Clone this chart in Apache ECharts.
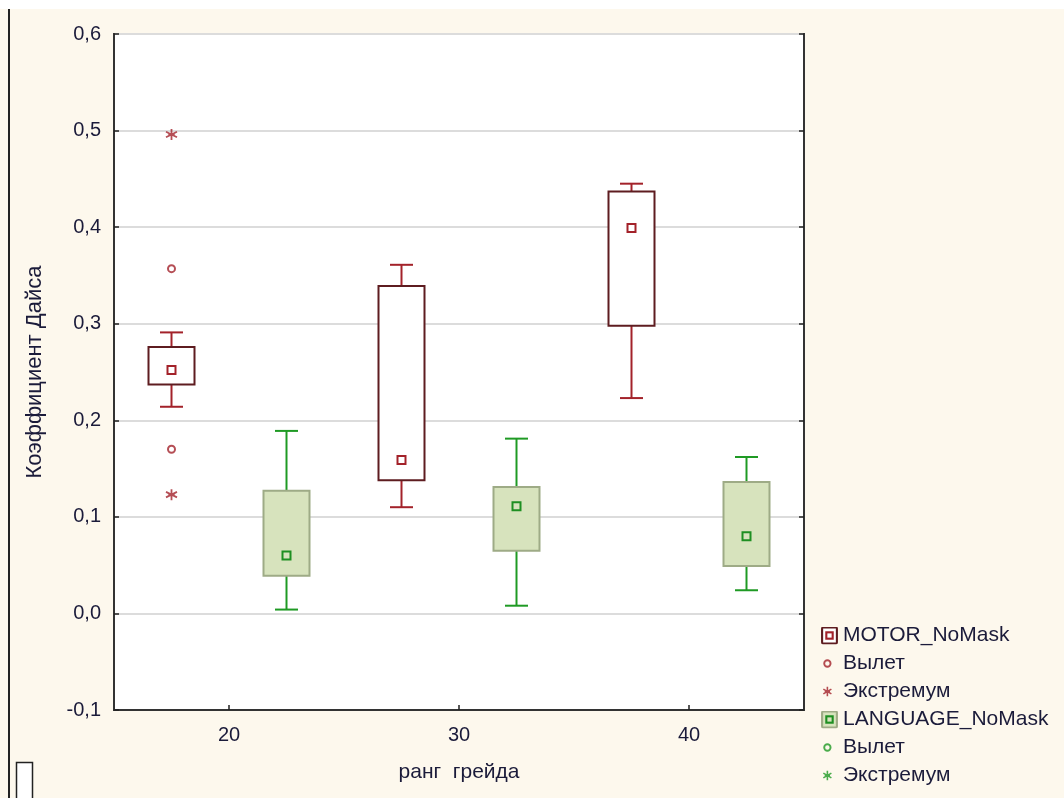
<!DOCTYPE html>
<html><head><meta charset="utf-8">
<script src="https://cdn.jsdelivr.net/npm/echarts@6/dist/echarts.min.js"></script>
<style>html,body{margin:0;padding:0;background:#fdf8ed}#c{width:1064px;height:798px}</style>
</head><body><div id="c"></div>
<script>
// ---- data ----
const categories = [20, 30, 40];
const xTickLabels = ['20', '30', '40'];
const yTickLabels = ['-0,1', '0,0', '0,1', '0,2', '0,3', '0,4', '0,5', '0,6'];

const motorMin    = [0.214, 0.110, 0.223];
const motorQ1     = [0.237, 0.138, 0.298];
const motorMedian = [0.252, 0.159, 0.399];
const motorQ3     = [0.276, 0.339, 0.437];
const motorMax    = [0.291, 0.361, 0.445];
const motorOutliers = [[20, 0.357], [20, 0.170]];
const motorExtremes = [[20, 0.496], [20, 0.123]];

const langMin    = [0.004, 0.008, 0.024];
const langQ1     = [0.039, 0.065, 0.049];
const langMedian = [0.060, 0.111, 0.080];
const langQ3     = [0.127, 0.131, 0.136];
const langMax    = [0.189, 0.181, 0.162];
const langOutliers = [];
const langExtremes = [];

// ---- styles ----
const FONT = "'Liberation Sans', Arial, sans-serif";
const TXT = '#1b1b3a';
const M = {offset: -2.5, whisker: '#a3222a', boxStroke: '#5e1c20', fill: '#ffffff', marker: '#a3222a', markerFill: '#ffffff'};
const L = {offset: 2.5, whisker: '#1f9a24', boxStroke: '#9eab86', fill: '#d7e3bd', marker: '#1e8f22', markerFill: '#d7e3bd'};

function boxData(mn, q1, md, q3, mx) {
  return categories.map((c, i) => [c, mn[i], q1[i], md[i], q3[i], mx[i]]);
}
function shift(points, off) { return points.map(p => [p[0] + off, p[1]]); }

function boxRender(st) {
  return function (params, api) {
    const x = api.value(0) + st.offset;
    const pMin = api.coord([x, api.value(1)]);
    const pQ1 = api.coord([x, api.value(2)]);
    const pMed = api.coord([x, api.value(3)]);
    const pQ3 = api.coord([x, api.value(4)]);
    const pMax = api.coord([x, api.value(5)]);
    const bw = api.size([2, 0])[0];
    const cw = api.size([1, 0])[0];
    const cx = pMin[0];
    const wl = {stroke: st.whisker, lineWidth: 2};
    return {
      type: 'group',
      children: [
        {type: 'line', shape: {x1: cx, y1: pMax[1], x2: cx, y2: pQ3[1]}, style: wl},
        {type: 'line', shape: {x1: cx, y1: pQ1[1], x2: cx, y2: pMin[1]}, style: wl},
        {type: 'line', shape: {x1: cx - cw / 2, y1: pMax[1], x2: cx + cw / 2, y2: pMax[1]}, style: wl},
        {type: 'line', shape: {x1: cx - cw / 2, y1: pMin[1], x2: cx + cw / 2, y2: pMin[1]}, style: wl},
        {type: 'rect', shape: {x: cx - bw / 2, y: pQ3[1], width: bw, height: pQ1[1] - pQ3[1]},
          style: {fill: st.fill, stroke: st.boxStroke, lineWidth: 2}},
        {type: 'rect', shape: {x: cx - 4, y: pMed[1] - 4, width: 8, height: 8},
          style: {fill: st.markerFill, stroke: st.marker, lineWidth: 2}}
      ]
    };
  };
}

const ASTER = 'path://M5,0L5,10M0.7,2.5L9.3,7.5M0.7,7.5L9.3,2.5M2.5,5L7.5,5';

function svgIcon(inner) {
  const s = '<svg xmlns="http://www.w3.org/2000/svg" width="16" height="17" viewBox="0 0 16 17">' + inner + '</svg>';
  return 'image://data:image/svg+xml;charset=utf-8,' + encodeURIComponent(s);
}
function boxIcon(st) {
  return svgIcon('<rect x="1" y="1" width="14" height="15" rx="1" fill="' + st.fill + '" stroke="' + st.boxStroke + '" stroke-width="2"/>' +
    '<rect x="5" y="5.5" width="6" height="6" fill="none" stroke="' + st.marker + '" stroke-width="2"/>');
}
function circleIcon(st) {
  return svgIcon('<circle cx="6" cy="8.5" r="3" fill="none" stroke="' + st.whisker + '" stroke-width="1.8"/>');
}
function asterIcon(st) {
  return svgIcon('<g stroke="' + st.whisker + '" stroke-width="1.5" fill="none">' +
    '<path d="M6,4L6,13M2.2,6.2L9.8,10.8M2.2,10.8L9.8,6.2M3.5,8.5L8.5,8.5"/></g>');
}

const chart = echarts.init(document.getElementById('c'), null, {renderer: 'canvas'});

const option = {
  backgroundColor: '#fdf8ed',
  animation: false,
  textStyle: {fontFamily: FONT, color: TXT},
  grid: {left: 114, right: 260, top: 34, bottom: 88, show: true, backgroundColor: '#ffffff',
    borderColor: '#333333', borderWidth: 2, containLabel: false},
  graphic: [
    {type: 'rect', left: 0, top: 0, shape: {width: 1064, height: 9}, style: {fill: '#ffffff'}, silent: true},
    {type: 'line', shape: {x1: 9, y1: 9, x2: 9, y2: 798}, style: {stroke: '#222', lineWidth: 2}, silent: true},
    {type: 'rect', shape: {x: 16.5, y: 762.5, width: 16, height: 40}, style: {fill: '#ffffff', stroke: '#222', lineWidth: 1.5}, silent: true}
  ],
  legend: {
    orient: 'vertical', left: 821, top: 625, itemWidth: 17, itemHeight: 18, itemGap: 7,
    padding: 0,
    selectedMode: false,
    formatter: name => name.split(' (')[0],
    textStyle: {fontFamily: FONT, fontSize: 21, color: TXT},
    data: [
      {name: 'MOTOR_NoMask', icon: boxIcon(M)},
      {name: 'Вылет (MOTOR)', icon: circleIcon(M)},
      {name: 'Экстремум (MOTOR)', icon: asterIcon(M)},
      {name: 'LANGUAGE_NoMask', icon: boxIcon(L)},
      {name: 'Вылет (LANGUAGE)', icon: circleIcon(L)},
      {name: 'Экстремум (LANGUAGE)', icon: asterIcon(L)}
    ]
  },
  xAxis: {
    type: 'value', min: 15, max: 45,
    name: 'ранг  грейда', nameLocation: 'middle', nameGap: 52,
    nameTextStyle: {fontFamily: FONT, fontSize: 21, color: TXT},
    axisLine: {show: true, onZero: false, lineStyle: {color: '#333', width: 2}},
    axisTick: {show: true, inside: true, length: 5, customValues: categories, lineStyle: {color: '#222', width: 1.5}},
    axisLabel: {customValues: categories, margin: 15, fontFamily: FONT, fontSize: 20, color: TXT,
      formatter: v => xTickLabels[categories.indexOf(v)] ?? ''},
    splitLine: {show: false}
  },
  yAxis: [{
    type: 'value', min: -0.1, max: 0.6, interval: 0.1,
    name: 'Коэффициент Дайса', nameLocation: 'middle', nameGap: 68,
    nameTextStyle: {fontFamily: FONT, fontSize: 22, color: TXT},
    axisLine: {show: true, lineStyle: {color: '#333', width: 2}},
    axisTick: {show: true, inside: true, length: 5, lineStyle: {color: '#222', width: 1.5}},
    axisLabel: {margin: 13, fontFamily: FONT, fontSize: 20, color: TXT,
      formatter: v => yTickLabels[Math.round(v * 10) + 1]},
    splitLine: {show: true, lineStyle: {color: '#dcdcdc', width: 2}}
  }, {
    type: 'value', min: -0.1, max: 0.6, interval: 0.1, position: 'right',
    axisLine: {show: true, lineStyle: {color: '#333', width: 2}},
    axisTick: {show: true, inside: true, length: 5, lineStyle: {color: '#222', width: 1.5}},
    axisLabel: {show: false}, splitLine: {show: false}
  }],
  series: [
    {name: 'MOTOR_NoMask', type: 'custom', renderItem: boxRender(M), z: 3,
      encode: {x: 0, y: [1, 2, 3, 4, 5]},
      data: boxData(motorMin, motorQ1, motorMedian, motorQ3, motorMax)},
    {name: 'Вылет (MOTOR)', type: 'scatter', symbol: 'circle', symbolSize: 7, z: 4,
      itemStyle: {color: '#ffffff', borderColor: M.whisker, borderWidth: 2},
      data: shift(motorOutliers, M.offset)},
    {name: 'Экстремум (MOTOR)', type: 'scatter', symbol: ASTER, symbolSize: 11, z: 4,
      itemStyle: {color: 'none', borderColor: M.whisker, borderWidth: 1.8},
      data: shift(motorExtremes, M.offset)},
    {name: 'LANGUAGE_NoMask', type: 'custom', renderItem: boxRender(L), z: 3,
      encode: {x: 0, y: [1, 2, 3, 4, 5]},
      data: boxData(langMin, langQ1, langMedian, langQ3, langMax)},
    {name: 'Вылет (LANGUAGE)', type: 'scatter', symbol: 'circle', symbolSize: 7, z: 4,
      itemStyle: {color: '#ffffff', borderColor: L.whisker, borderWidth: 2},
      data: shift(langOutliers, L.offset)},
    {name: 'Экстремум (LANGUAGE)', type: 'scatter', symbol: ASTER, symbolSize: 11, z: 4,
      itemStyle: {color: 'none', borderColor: L.whisker, borderWidth: 1.8},
      data: shift(langExtremes, L.offset)}
  ]
};
chart.setOption(option);
</script>
</body></html>
